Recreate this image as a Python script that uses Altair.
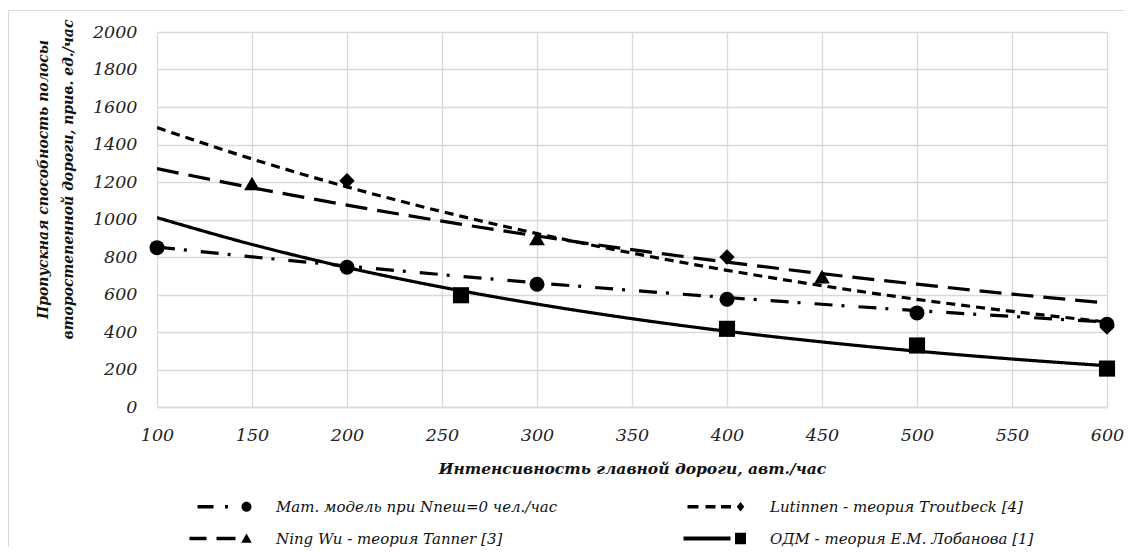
import altair as alt
import pandas as pd

# ---- data ----
series = [
    "Мат. модель  при Nпеш=0 чел./час",
    "Lutinnen - теория Troutbeck [4]",
    "Ning Wu - теория Tanner [3]",
    "ОДМ - теория Е.М. Лобанова [1]",
]

# trend curves (read every 50 veh/h)
curve_x = [100, 150, 200, 250, 300, 350, 400, 450, 500, 550, 600]
mat_curve = [853, 801, 752, 706, 662, 622, 584, 548, 514, 483, 453]
lut_curve = [1490, 1323, 1174, 1042, 925, 821, 729, 647, 574, 510, 453]
ning_curve = [1271, 1170, 1077, 991, 912, 839, 773, 711, 655, 602, 555]
odm_curve = [1010, 867, 744, 639, 549, 471, 404, 347, 298, 256, 220]

# measured points
mat_x = [100, 200, 300, 400, 500, 600]
mat_y = [850, 745, 655, 575, 502, 441]
lut_x = [200, 400, 600]
lut_y = [1207, 800, 427]
ning_x = [150, 300, 450]
ning_y = [1192, 899, 695]
odm_x = [260, 400, 500, 600]
odm_y = [596, 417, 328, 205]

x_ticks = [100, 150, 200, 250, 300, 350, 400, 450, 500, 550, 600]
y_ticks = [0, 200, 400, 600, 800, 1000, 1200, 1400, 1600, 1800, 2000]

# ---- tables ----
curves = pd.concat([
    pd.DataFrame({"x": curve_x, "y": c, "s": s})
    for s, c in zip(series, [mat_curve, lut_curve, ning_curve, odm_curve])
])
points = pd.concat([
    pd.DataFrame({"x": px, "y": py, "s": s})
    for s, px, py in zip(series, [mat_x, lut_x, ning_x, odm_x],
                         [mat_y, lut_y, ning_y, odm_y])
])

FONT = "DejaVu Serif"
GRID = "#d9d9d9"
W, H = 950, 375

xs = alt.Scale(domain=[100, 600], nice=False, zero=False)
ys = alt.Scale(domain=[0, 2000], nice=False)

x_axis = alt.Axis(
    values=x_ticks, format="d", grid=True, gridColor=GRID, gridWidth=1.3,
    domainColor=GRID, domainWidth=1.3, ticks=False, tickSize=0,
    labelFont=FONT, labelFontStyle="italic", labelFontSize=17.5,
    labelColor="#222222", labelPadding=19, labelFlush=False, labelOverlap=False,
    title="Интенсивность главной дороги, авт./час",
    titleFont=FONT, titleFontStyle="italic", titleFontWeight="bold",
    titleFontSize=15.5, titleColor="#111111",
    titleX=W / 2, titleY=61, titleBaseline="middle", titleAlign="center",
)
y_axis = alt.Axis(
    values=y_ticks, format="d", grid=True, gridColor=GRID, gridWidth=1.3,
    domain=False, ticks=False, tickSize=0,
    labelFont=FONT, labelFontStyle="italic", labelFontSize=17.5,
    labelColor="#222222", labelPadding=20, labelOverlap=False,
    title=["Пропускная способность полосы",
           "второстепенной дороги, прив. ед./час"],
    titleFont=FONT, titleFontStyle="italic", titleFontWeight="bold",
    titleFontSize=14, titleColor="#111111", titleLineHeight=25,
    titleAngle=-90, titleX=-114, titleY=147,
    titleBaseline="middle", titleAlign="center",
)

dash_range = [[18, 9, 3, 14], [9, 6], [22, 10], [1, 0]]
shape_range = ["circle", "diamond", "triangle-up", "square"]
size_range = [225, 260, 300, 240]

T = 0.34
glyph = {
    series[0]: f"M-9.8,-{T}H-6.6V{T}H-9.8Z M-4.3,-{T}H-3.7V{T}H-4.3Z "
               "M-1,0A1,1,0,1,0,1,0A1,1,0,1,0,-1,0Z",
    series[1]: f"M-10.6,-{T}H-8.4V{T}H-10.6Z M-7,-{T}H-5V{T}H-7Z M-3.9,-{T}H-1.9V{T}H-3.9Z "
               "M0,-0.95L0.75,0L0,0.95L-0.75,0Z",
    series[2]: f"M-11.4,-{T}H-8V{T}H-11.4Z M-6,-{T}H-2.2V{T}H-6Z "
               "M0,-1L-1.05,0.85L1.05,0.85Z",
    series[3]: "M-11.4,-0.4H-2V0.4H-11.4Z M-1.1,-1.15H1.1V1.15H-1.1Z",
}
# legend fills column by column: col 1 = series 0, 2 ; col 2 = series 1, 3
legend_order = [series[0], series[2], series[1], series[3]]
leg_paths = [glyph[s] for s in legend_order]

lines = alt.Chart(curves).mark_line(
    color="black", strokeWidth=3.2, interpolate="monotone", clip=True
).encode(
    x=alt.X("x:Q", scale=xs, axis=x_axis),
    y=alt.Y("y:Q", scale=ys, axis=y_axis),
    strokeDash=alt.StrokeDash("s:N", scale=alt.Scale(domain=series, range=dash_range),
                              legend=None),
    detail="s:N",
)

pts = alt.Chart(points).mark_point(filled=True, color="black", opacity=1).encode(
    x=alt.X("x:Q", scale=xs, axis=x_axis),
    y=alt.Y("y:Q", scale=ys, axis=y_axis),
    shape=alt.Shape("s:N", scale=alt.Scale(domain=series, range=shape_range),
                    legend=None),
    size=alt.Size("s:N", scale=alt.Scale(domain=series, range=size_range),
                  legend=None),
)

legend_layer = alt.Chart(points).mark_point(filled=True, color="black", opacity=0).encode(
    x=alt.X("x:Q", scale=xs, axis=x_axis),
    y=alt.Y("y:Q", scale=ys, axis=y_axis),
    shape=alt.Shape(
        "s:N",
        scale=alt.Scale(domain=legend_order, range=leg_paths),
        legend=alt.Legend(
            title=None, orient="none", legendX=82, legendY=467,
            columns=2, columnPadding=121, rowPadding=16, padding=0,
            symbolSize=100, symbolFillColor="black", symbolStrokeColor="black",
            symbolStrokeWidth=0, symbolOpacity=1,
            labelFont=FONT, labelFontStyle="italic", labelFontSize=15,
            labelColor="#111111", labelOffset=22, labelLimit=0,
        ),
    ),
)

frame = alt.Chart(pd.DataFrame({"k": [0]})).mark_rect(
    fill=None, stroke=GRID, strokeWidth=1
).encode(
    x=alt.value(-148.5), x2=alt.value(W + 60), y=alt.value(-21.5), y2=alt.value(H + 200)
)

chart = alt.layer(frame, lines, pts, legend_layer).resolve_scale(
    shape="independent"
).properties(
    width=W, height=H,
    autosize=alt.AutoSizeParams(type="none"),
    padding={"left": 149, "top": 24, "right": 17, "bottom": 140},
    background="white",
).configure_axis(
    labelOverlap=False
).configure_view(stroke=None)

chart.save("out.html", embed_options={"renderer": "svg", "actions": False})
